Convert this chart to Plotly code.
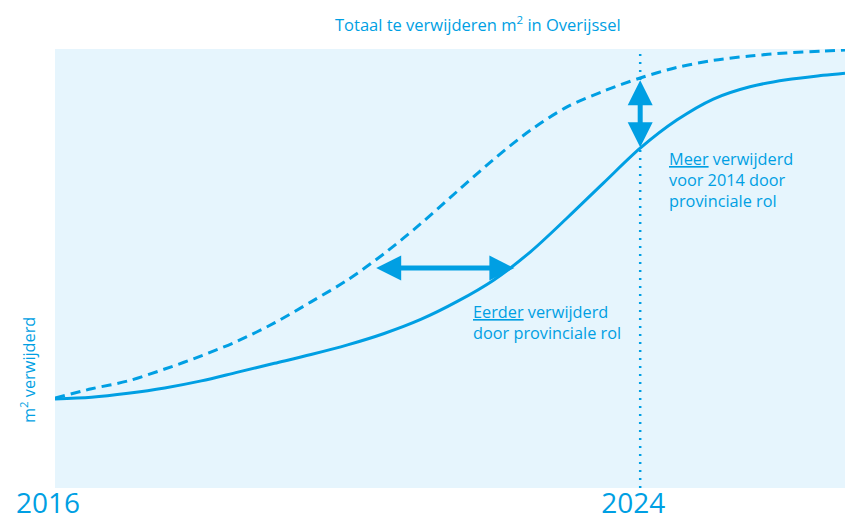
import plotly.graph_objects as go

# Data
years = [2016, 2016.5, 2017, 2017.5, 2018, 2018.5, 2019, 2019.5, 2020, 2020.5, 2021, 2021.5,
         2022, 2022.5, 2023, 2023.5, 2024, 2024.5, 2025, 2025.5, 2026, 2026.5, 2026.8]
huidig = [20.3, 20.7, 21.6, 22.8, 24.4, 26.4, 28.4, 30.4, 32.6, 35.2, 38.4, 42.5,
          47.4, 53.8, 61.5, 69.5, 77.4, 83.8, 88.6, 91.4, 93.0, 94.0, 94.5]
provinciaal = [20.5, 22.6, 24.4, 27.1, 30.1, 33.5, 37.6, 42.4, 47.4, 53.4, 60.2, 67.6,
               74.9, 81.5, 86.8, 90.4, 93.4, 95.8, 97.4, 98.4, 99.1, 99.5, 99.8]
tick_years = [2016, 2024]
tick_labels = ["2016", "2024"]

BLUE = "#009FE3"
BG = "#E6F5FD"
FONT = "Open Sans"

L, R, T, B = 55, 0, 49, 26
W, H = 845, 514
pw, ph = W - L - R, H - T - B


def px_x(x):
    return (x - L) / pw


def px_y(y):
    return (H - B - y) / ph


fig = go.Figure()

fig.add_trace(go.Scatter(x=years, y=provinciaal, mode="lines",
                         line=dict(color=BLUE, width=3, dash="10px,6px", shape="spline", smoothing=0.9),
                         hoverinfo="skip", showlegend=False))
fig.add_trace(go.Scatter(x=years, y=huidig, mode="lines",
                         line=dict(color=BLUE, width=3, shape="spline", smoothing=0.9),
                         hoverinfo="skip", showlegend=False))

# vertical dotted line at 2024
fig.add_shape(type="line", xref="x", yref="paper", x0=2024, x1=2024, y0=0, y1=1,
              line=dict(color=BLUE, width=2.5, dash="2px,6px"), layer="above")

# double arrows
arrow = dict(showarrow=True, arrowhead=2, startarrowhead=2, arrowside="end+start",
             arrowsize=1.0, startarrowsize=1.0, arrowwidth=5, arrowcolor=BLUE,
             axref="x", ayref="y", xref="x", yref="y", text="", standoff=0, startstandoff=0)
fig.add_annotation(x=2022.28, y=50.1, ax=2020.37, ay=50.1, **arrow)
fig.add_annotation(x=2024, y=77.6, ax=2024, ay=93.2, **arrow)

txt = dict(font=dict(family=FONT, size=16.3, color=BLUE), showarrow=False,
           xref="x", yref="y", xanchor="left", yanchor="middle", align="left")
fig.add_annotation(x=2024.36, y=70.2,
                   text="<u>Meer</u> verwijderd<br>voor 2014 door<br>provinciale rol", **txt)
fig.add_annotation(x=2021.69, y=37.6,
                   text="<u>Eerder</u> verwijderd<br>door provinciale rol", **txt)

# title
fig.add_annotation(x=px_x(478), y=px_y(24), xref="paper", yref="paper",
                   xanchor="center", yanchor="middle",
                   text="Totaal te verwijderen m<sup>2</sup> in Overijssel",
                   showarrow=False, font=dict(family=FONT, size=16.5, color=BLUE))

# y label
fig.add_annotation(text="m<sup>2</sup> verwijderd", textangle=-90, x=px_x(28), y=px_y(370),
                   xanchor="center", yanchor="middle",
                   showarrow=False, font=dict(family=FONT, size=16.3, color=BLUE),
                   xref="paper", yref="paper")

fig.update_layout(
    width=W, height=H,
    margin=dict(l=L, r=R, t=T, b=B, pad=0, autoexpand=False),
    paper_bgcolor="white", plot_bgcolor=BG,
    xaxis=dict(range=[2016, 2026.8], showgrid=False, zeroline=False, showline=False,
               tickvals=tick_years, ticktext=tick_labels, ticks="",
               tickfont=dict(family=FONT, size=28, color=BLUE), ticklabelshift=-7,
               ticklabelstandoff=-4, automargin=False),
    yaxis=dict(range=[0, 100], showgrid=False, zeroline=False, showline=False,
               showticklabels=False, ticks="", automargin=False),
)

fig.write_html("out.html", config={"displayModeBar": False},
               post_script="document.body.style.margin='0';document.body.style.overflow='hidden';")
